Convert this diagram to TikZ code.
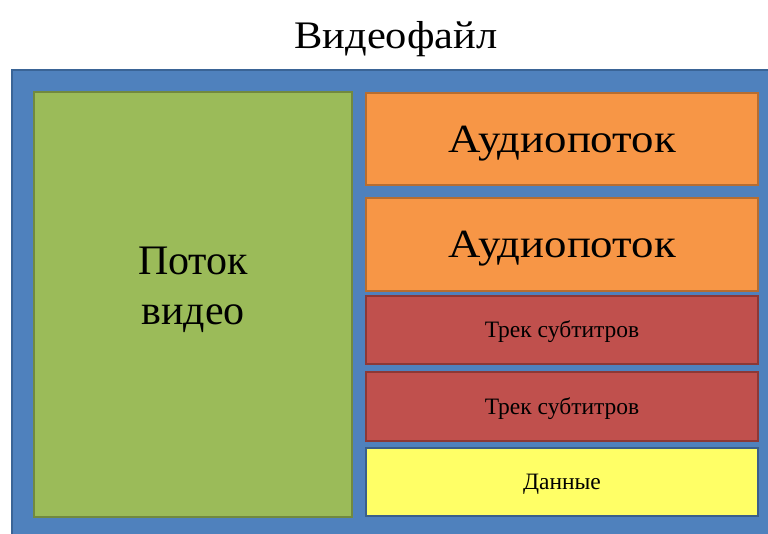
\documentclass[tikz,border=0pt]{standalone}
\usepackage{fontspec}
\setmainfont{Liberation Serif}
\newfontfamily\titlefont[FakeStretch=1.09]{Liberation Serif}
\newfontfamily\audiofont[FakeStretch=1.12]{Liberation Serif}
\usepackage{tikz}

\definecolor{fileblue}{HTML}{4F81BD}
\definecolor{fileblueedge}{HTML}{3A6496}
\definecolor{vidgreen}{HTML}{9BBB59}
\definecolor{vidgreenedge}{HTML}{71893F}
\definecolor{audorange}{HTML}{F79646}
\definecolor{audorangeedge}{HTML}{B66D31}
\definecolor{subred}{HTML}{C0504D}
\definecolor{subrededge}{HTML}{8C3836}
\definecolor{datayellow}{HTML}{FFFF66}
\definecolor{datayellowedge}{HTML}{3A5F8A}

\begin{document}
\begin{tikzpicture}[
  x=1pt, y=-1pt,
  blk/.style={draw, line width=2pt, inner sep=0pt, minimum width=392pt},
  big/.style={font=\audiofont\fontsize{40}{46}\selectfont, text height=26pt, text depth=0pt},
  small/.style={font=\fontsize{23.5}{28}\selectfont, text height=15.5pt, text depth=0pt}
]
\useasboundingbox (0,0) rectangle (768,533);
\clip (0,0) rectangle (768,533);
% ---------------- container ----------------
\draw[fill=fileblue, draw=fileblueedge, line width=2pt] (12,70) rectangle (772,537);
\node[font=\titlefont\fontsize{39}{44}\selectfont, anchor=base] (title) at (396,48) {Видеофайл};
% ---------------- video ----------------
\node[blk, fill=vidgreen, draw=vidgreenedge, minimum width=318pt, minimum height=425pt]
  (video) at (193,304.5) {};
\node[font=\fontsize{42}{50}\selectfont, align=center] (videolbl) at (193,290) {Поток\\видео};
% ---------------- streams ----------------
\node[blk, big, fill=audorange, draw=audorangeedge, minimum height=92pt] (audio1) at (562,139) {Аудиопоток};
\node[blk, big, fill=audorange, draw=audorangeedge, minimum height=93pt] (audio2) at (562,244.5) {Аудиопоток};
\node[blk, small, fill=subred, draw=subrededge, minimum height=68pt] (sub1) at (562,330) {Трек субтитров};
\node[blk, small, fill=subred, draw=subrededge, minimum height=69pt] (sub2) at (562,406.5) {Трек субтитров};
\node[blk, small, fill=datayellow, draw=datayellowedge, minimum height=68pt] (data) at (562,482) {Данные};
\end{tikzpicture}
\end{document}
